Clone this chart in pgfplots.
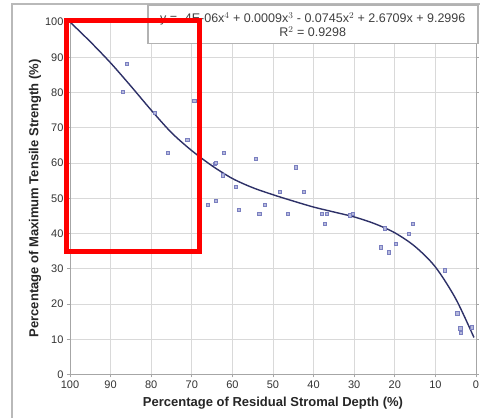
\documentclass[border=0pt]{standalone}
\usepackage{fontspec}
\setmainfont{Liberation Sans}
\usepackage{pgfplots}
\pgfplotsset{compat=1.18}
\definecolor{markc}{HTML}{7A7FC0}
\definecolor{curvec}{HTML}{2E3168}
\begin{document}
\begin{tikzpicture}[x=1pt,y=1pt]
\useasboundingbox (0,0) rectangle (480,418);
\fill[white] (0,0) rectangle (480,418);
\draw[gray!55, line width=1.2pt] (12,0) -- (12,414) -- (480,414);
\begin{axis}[
  at={(70pt,43.5pt)}, anchor=south west, scale only axis,
  width=406pt, height=352.5pt,
  xmin=0, xmax=100, ymin=0, ymax=100, x dir=reverse,
  xtick={0,10,...,100}, ytick={0,10,...,100},
  grid=major, grid style={gray!30, line width=0.7pt},
  axis line style={gray!70, line width=0.7pt},
  tick style={gray!70, line width=0.7pt},
  tick align=outside, major tick length=3pt,
  /pgf/number format/assume math mode=true,
  ticklabel style={font=\fontsize{11}{13}\selectfont, text=black!80},
  xlabel={Percentage of Residual Stromal Depth (\%)},
  ylabel={Percentage of Maximum Tensile Strength (\%)},
  label style={font=\bfseries\fontsize{13}{15}\selectfont, text=black!85},
  xlabel style={at={(axis description cs:0.5,-0.0809)}, anchor=center},
  ylabel style={at={(axis description cs:-0.0862,0.5)}, anchor=center},
  clip=false,
]
\addplot[only marks, mark=square*, mark size=1.6pt,
  mark options={draw=markc, fill=markc!55, line width=0.5pt}] coordinates {
 (86.0,88.1) (87.0,80.1) (69.4,77.6) (79.1,74.3) (71.1,66.7) (75.9,62.8)
 (64.3,59.9) (62.2,62.8) (64.1,60.1) (54.3,61.3) (44.3,58.8) (59.2,53.3)
 (62.3,56.5) (48.3,51.9) (42.5,51.9) (66.1,48.1) (64.1,49.3) (58.5,46.7)
 (53.4,45.5) (52.1,48.1) (46.4,45.5) (36.8,45.7) (37.9,45.5) (37.2,42.7)
 (31.0,45.2) (30.3,45.5) (15.6,42.7) (16.5,39.9) (19.7,37.2) (23.5,36.1)
 (21.4,34.7) (22.4,41.5) (7.6,29.6) (4.6,17.4) (3.9,13.1) (3.8,11.9)
 (1.1,13.4)
};
\addplot[curvec, line width=1.4pt, smooth] coordinates {
 (100,100) (95,94.4) (90,88.4) (85,81.8) (80,75.0) (75,68.6) (70,63.5)
 (65,59.2) (60,55.6) (55,53.0) (50,51.0) (45,49.2) (40,47.5) (35,46.1)
 (30,44.7) (25,42.8) (20,40.2) (15,36.3) (10,30.5) (5,21.5) (0.5,10.5)
};
\fill[white] (axis cs:80.8,104.8) rectangle (axis cs:-0.5,93.8);
\draw[gray!60, line width=1.2pt] (axis cs:80.8,104.8) rectangle (axis cs:-0.5,93.8);
\node[font=\fontsize{12.5}{12.5}\selectfont, text=black!75, align=center] at (axis cs:40.2,99.3)
  {y = -4E-06x$^4$ + 0.0009x$^3$ - 0.0745x$^2$ + 2.6709x + 9.2996\\R$^2$ = 0.9298};
\draw[red, line width=5pt] (axis cs:100.8,100.5) rectangle (axis cs:68.0,35.0);
\end{axis}
\end{tikzpicture}
\end{document}
